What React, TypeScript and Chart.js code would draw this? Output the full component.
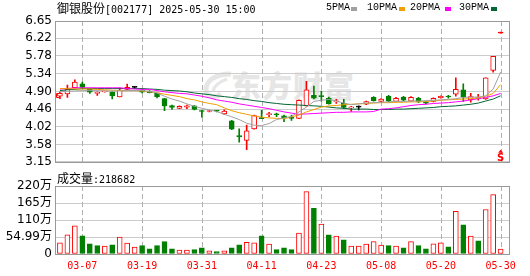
import React, { useEffect, useRef } from 'react';
import { Chart, registerables } from 'chart.js';

Chart.register(...registerables);

// ---------------- data ----------------
const dates = [
  '03-04', '03-05', '03-06', '03-07', '03-10', '03-11', '03-12', '03-13', '03-14', '03-17',
  '03-18', '03-19', '03-20', '03-21', '03-24', '03-25', '03-26', '03-27', '03-28', '03-31',
  '04-01', '04-02', '04-03', '04-07', '04-08', '04-09', '04-10', '04-11', '04-14', '04-15',
  '04-16', '04-17', '04-18', '04-21', '04-22', '04-23', '04-24', '04-25', '04-28', '04-29',
  '04-30', '05-06', '05-07', '05-08', '05-09', '05-12', '05-13', '05-14', '05-15', '05-16',
  '05-19', '05-20', '05-21', '05-22', '05-23', '05-26', '05-27', '05-28', '05-29', '05-30',
];

const opens = [
  4.78, 4.84, 4.99, 5.09, 4.95, 4.85, 4.89, 4.88, 4.76, 4.95,
  5.00, 4.93, 4.91, 4.85, 4.72, 4.55, 4.48, 4.51, 4.54, 4.42,
  4.40, 4.43, 4.34, 4.17, 3.80, 3.68, 3.97, 4.25, 4.32, 4.33,
  4.29, 4.25, 4.23, 4.54, 4.80, 4.79, 4.73, 4.64, 4.61, 4.49,
  4.51, 4.58, 4.75, 4.65, 4.78, 4.65, 4.76, 4.66, 4.73, 4.63,
  4.65, 4.74, 4.78, 4.83, 4.94, 4.69, 4.72, 4.71, 5.42, 6.35,
];
const highs = [
  4.88, 5.06, 5.19, 5.13, 4.96, 4.89, 4.91, 4.89, 4.99, 5.08,
  5.02, 4.93, 4.92, 4.86, 4.73, 4.56, 4.54, 4.56, 4.55, 4.43,
  4.43, 4.43, 4.44, 4.18, 3.97, 4.06, 4.31, 4.43, 4.38, 4.36,
  4.31, 4.31, 4.69, 5.15, 5.03, 4.91, 4.76, 4.70, 4.70, 4.53,
  4.54, 4.66, 4.77, 4.72, 4.80, 4.75, 4.78, 4.77, 4.75, 4.65,
  4.74, 4.79, 4.80, 5.24, 5.09, 4.85, 4.83, 5.24, 5.77, 6.35,
];
const lows = [
  4.72, 4.75, 4.98, 4.97, 4.85, 4.80, 4.88, 4.71, 4.76, 4.95,
  4.97, 4.86, 4.86, 4.74, 4.42, 4.45, 4.47, 4.47, 4.44, 4.26,
  4.39, 4.39, 4.33, 3.95, 3.64, 3.45, 3.96, 4.22, 4.27, 4.27,
  4.15, 4.18, 4.22, 4.53, 4.71, 4.66, 4.58, 4.60, 4.47, 4.40,
  4.44, 4.57, 4.66, 4.64, 4.64, 4.64, 4.67, 4.65, 4.62, 4.59,
  4.64, 4.73, 4.73, 4.78, 4.65, 4.63, 4.68, 4.70, 5.38, 6.35,
];
const closes = [
  4.85, 4.95, 5.13, 5.00, 4.88, 4.86, 4.91, 4.79, 4.93, 5.00,
  5.00, 4.88, 4.87, 4.77, 4.54, 4.50, 4.53, 4.54, 4.45, 4.40,
  4.42, 4.41, 4.41, 3.96, 3.77, 3.92, 4.30, 4.22, 4.35, 4.32,
  4.25, 4.23, 4.68, 4.94, 4.73, 4.77, 4.59, 4.66, 4.50, 4.51,
  4.51, 4.65, 4.67, 4.71, 4.66, 4.73, 4.68, 4.75, 4.64, 4.61,
  4.73, 4.78, 4.76, 4.95, 4.76, 4.77, 4.74, 5.24, 5.77, 6.35,
];

// volume in 万
const volumes = [
  36, 62, 91, 59, 33, 27, 26, 30, 55, 35,
  22, 27, 17, 27, 40, 17, 13, 13, 14, 20,
  10, 7.5, 10, 20, 30, 38, 36, 59, 32, 14,
  20, 14, 68, 202, 148, 97, 62, 58, 46, 26,
  26, 32, 40, 29, 27, 26, 20, 40, 27, 17,
  33, 36, 23, 138, 94, 58, 43, 144, 192, 16,
];
const volumeUp = [
  1, 1, 1, 0, 0, 0, 1, 0, 1, 1,
  1, 0, 0, 0, 0, 0, 1, 1, 0, 0,
  1, 0, 1, 0, 0, 1, 1, 0, 1, 0,
  0, 0, 1, 1, 0, 1, 0, 1, 0, 1,
  1, 1, 1, 1, 0, 1, 0, 1, 0, 0,
  1, 1, 0, 1, 0, 1, 0, 1, 1, 1,
];

const ma5 = [
  4.89, 4.90, 4.91, 4.92, 4.92, 4.92, 4.91, 4.91, 4.91, 4.92,
  4.92, 4.92, 4.90, 4.86, 4.78, 4.71, 4.66, 4.59, 4.53, 4.48,
  4.44, 4.40, 4.33, 4.27, 4.20, 4.11, 4.06, 4.05, 4.10, 4.20,
  4.24, 4.28, 4.39, 4.51, 4.65, 4.68, 4.70, 4.66, 4.61, 4.57,
  4.59, 4.61, 4.62, 4.63, 4.64, 4.65, 4.65, 4.66, 4.66, 4.67,
  4.68, 4.69, 4.70, 4.72, 4.75, 4.76, 4.76, 4.79, 4.96, 5.38,
];
const ma10 = [
  4.97, 4.97, 4.96, 4.96, 4.96, 4.95, 4.94, 4.93, 4.92, 4.92,
  4.92, 4.91, 4.89, 4.87, 4.83, 4.80, 4.77, 4.72, 4.69, 4.64,
  4.60, 4.57, 4.49, 4.42, 4.37, 4.33, 4.29, 4.26, 4.24, 4.23,
  4.22, 4.27, 4.31, 4.39, 4.45, 4.51, 4.54, 4.55, 4.57, 4.58,
  4.59, 4.60, 4.61, 4.62, 4.62, 4.63, 4.63, 4.64, 4.64, 4.65,
  4.66, 4.68, 4.69, 4.70, 4.71, 4.72, 4.74, 4.78, 4.85, 5.07,
];
const ma20 = [
  4.96, 4.97, 4.99, 4.99, 4.99, 4.99, 4.99, 4.99, 4.99, 4.97,
  4.96, 4.95, 4.95, 4.92, 4.89, 4.87, 4.85, 4.84, 4.81, 4.78,
  4.74, 4.69, 4.66, 4.63, 4.59, 4.56, 4.53, 4.50, 4.47, 4.43,
  4.39, 4.36, 4.33, 4.34, 4.35, 4.36, 4.37, 4.38, 4.38, 4.39,
  4.39, 4.39, 4.40, 4.46, 4.47, 4.49, 4.52, 4.55, 4.57, 4.58,
  4.60, 4.61, 4.62, 4.64, 4.66, 4.69, 4.72, 4.75, 4.79, 4.85,
];
const ma30 = [
  4.92, 4.94, 4.95, 4.97, 4.97, 4.97, 4.97, 4.97, 4.97, 4.97,
  4.97, 4.97, 4.96, 4.95, 4.93, 4.92, 4.91, 4.89, 4.86, 4.84,
  4.82, 4.79, 4.77, 4.75, 4.72, 4.70, 4.67, 4.65, 4.62, 4.60,
  4.58, 4.57, 4.56, 4.55, 4.54, 4.53, 4.51, 4.49, 4.48, 4.46,
  4.46, 4.46, 4.45, 4.45, 4.45, 4.46, 4.46, 4.47, 4.48, 4.49,
  4.50, 4.52, 4.53, 4.54, 4.56, 4.58, 4.61, 4.66, 4.71, 4.79,
];

const priceTicks = [3.15, 3.58, 4.02, 4.46, 4.9, 5.34, 5.78, 6.22, 6.65];
const priceTickLabels = ['3.15', '3.58', '4.02', '4.46', '4.90', '5.34', '5.78', '6.22', '6.65'];
const volumeTicks = [0, 54.99, 110, 165, 220];
const volumeTickLabels = ['0', '54.99万', '110万', '165万', '220万'];
const dateTickIndex = [3, 11, 19, 27, 35, 43, 51, 59];
const latestVolume = 218682;
const axisMarkPrice = 4.8;
const signalIndex = 59;

const stockTitleCn = '御银股份';
const stockTitleRest = '[002177] 2025-05-30 15:00';
const maNames = ['5PMA', '10PMA', '20PMA', '30PMA'];

// ---------------- styles ----------------
const UP = '#ff0000';
const DOWN = '#008000';
const FLAT = '#000000';
const MA_COLORS = ['#a0a0a0', '#f0a000', '#ff00ff', '#006633'];
const GRID = '#cccccc';
const VGRID = '#b0b0b0';
const FRAME = '#999999';
const X_MIN = -0.66;
const X_MAX = 60.12;

const candleDir = closes.map((c, i) =>
  c > opens[i] ? 1 : c < opens[i] ? -1 : i > 0 && c > closes[i - 1] ? 1 : 0
);
const candleColor = candleDir.map((d) => (d > 0 ? UP : d < 0 ? DOWN : FLAT));

function drawDateGrid(chart: any) {
  const { ctx, chartArea, scales } = chart;
  ctx.save();
  ctx.strokeStyle = VGRID;
  ctx.lineWidth = 1;
  ctx.setLineDash([5, 3]);
  for (let k = 0; k < dateTickIndex.length; k++) {
    const px = scales.x.getPixelForValue(dateTickIndex[k]);
    const x = Math.round(px) + 0.5;
    ctx.beginPath();
    ctx.moveTo(x, Math.round(chartArea.top));
    ctx.lineTo(x, Math.round(chartArea.bottom));
    ctx.stroke();
  }
  ctx.setLineDash([]);
  ctx.restore();
}

// dashed vertical date grid (under the marks) + outer frame
const framePlugin = {
  id: 'frame',
  beforeDatasetsDraw(chart: any) {
    drawDateGrid(chart);
  },
  afterDraw(chart: any) {
    const { ctx, chartArea } = chart;
    ctx.save();
    ctx.strokeStyle = FRAME;
    ctx.lineWidth = 1;
    ctx.strokeRect(
      Math.round(chartArea.left) + 0.5,
      Math.round(chartArea.top) + 0.5,
      Math.round(chartArea.right - chartArea.left),
      Math.round(chartArea.bottom - chartArea.top)
    );
    ctx.restore();
  },
};

const markerPlugin = {
  id: 'markers',
  afterDraw(chart: any) {
    const { ctx, chartArea, scales } = chart;
    const y = Math.round(scales.y.getPixelForValue(axisMarkPrice)) + 0.5;
    const x0 = Math.round(chartArea.left) + 1.5;
    ctx.save();
    ctx.strokeStyle = UP;
    ctx.lineWidth = 1;
    ctx.beginPath();
    ctx.moveTo(x0 + 3, y - 2);
    ctx.lineTo(x0, y - 2);
    ctx.lineTo(x0, y + 2);
    ctx.lineTo(x0 + 3, y + 2);
    ctx.stroke();
    // signal marker under the last candle
    const sx = scales.x.getPixelForValue(signalIndex);
    const base = chartArea.bottom;
    ctx.fillStyle = UP;
    ctx.beginPath();
    ctx.moveTo(sx, base - 12);
    ctx.lineTo(sx - 2.5, base - 9);
    ctx.lineTo(sx + 2.5, base - 9);
    ctx.closePath();
    ctx.fill();
    ctx.font = 'bold 10px "DejaVu Sans"';
    ctx.textAlign = 'center';
    ctx.textBaseline = 'alphabetic';
    ctx.fillText('S', sx, base - 0.5);
    ctx.restore();
  },
};

function xScale(showLabels: boolean, height: number) {
  return {
    type: 'linear',
    min: X_MIN,
    max: X_MAX,
    offset: false,
    bounds: 'data',
    afterBuildTicks: (s: any) => {
      s.ticks = dateTickIndex.map((v) => ({ value: v }));
    },
    afterFit: (s: any) => {
      s.height = height;
    },
    ticks: {
      display: showLabels,
      autoSkip: false,
      maxRotation: 0,
      padding: 6,
      color: UP,
      font: { family: '"DejaVu Sans Mono"', size: 10 },
      callback: (v: any) => dates[v] ?? '',
    },
    grid: { display: false, drawTicks: false, offset: false },
    border: { display: false },
  };
}

function yScale(min: number, max: number, ticks: number[], labels: string[]) {
  return {
    type: 'linear',
    min,
    max,
    bounds: 'data',
    afterBuildTicks: (s: any) => {
      s.ticks = ticks.map((v) => ({ value: v }));
    },
    afterFit: (s: any) => {
      s.width = 55;
    },
    ticks: {
      autoSkip: false,
      padding: 3,
      color: '#000000',
      font: { family: '"DejaVu Sans", "Noto Sans CJK SC"', size: 12 },
      callback: (_v: any, i: number) => labels[i],
    },
    grid: { color: GRID, drawTicks: false, lineWidth: 1 },
    border: { display: false },
  };
}

export default function App() {
  const priceRef = useRef<HTMLCanvasElement>(null);
  const volRef = useRef<HTMLCanvasElement>(null);

  useEffect(() => {
    const idx = dates.map((_, i) => i);
    const maSets = [ma5, ma10, ma20, ma30].map((arr, k) => ({
      type: 'line',
      data: idx.map((i) => ({ x: i, y: arr[i] })),
      borderColor: MA_COLORS[k],
      borderWidth: 1,
      pointRadius: 0,
      tension: 0,
      order: 0,
    }));

    const priceChart = new Chart(priceRef.current as HTMLCanvasElement, {
      type: 'bar',
      data: {
        datasets: [
          ...maSets,
          {
            type: 'bar',
            data: idx.map((i) => ({
              x: i,
              y: [Math.min(opens[i], closes[i]), Math.max(opens[i], closes[i])],
            })),
            backgroundColor: idx.map((i) =>
              candleDir[i] > 0 && opens[i] !== closes[i] ? '#ffffff' : candleColor[i]
            ),
            borderColor: candleColor,
            borderWidth: 1,
            borderSkipped: false,
            barThickness: 5,
            minBarLength: 1,
            grouped: false,
            order: 1,
          },
          {
            type: 'bar',
            data: idx.map((i) => ({ x: i, y: [lows[i], highs[i]] })),
            backgroundColor: candleColor,
            borderWidth: 0,
            barThickness: 1,
            minBarLength: 1,
            grouped: false,
            order: 2,
          },
        ] as any,
      },
      options: {
        responsive: false,
        animation: false,
        devicePixelRatio: 1,
        events: [],
        layout: { padding: { left: 0, right: 21, top: 21, bottom: 7 } },
        plugins: { legend: { display: false }, tooltip: { enabled: false } },
        scales: {
          x: xScale(false, 0) as any,
          y: yScale(3.15, 6.65, priceTicks, priceTickLabels) as any,
        },
      },
      plugins: [framePlugin, markerPlugin],
    });

    const volChart = new Chart(volRef.current as HTMLCanvasElement, {
      type: 'bar',
      data: {
        datasets: [
          {
            data: idx.map((i) => ({ x: i, y: volumes[i] })),
            backgroundColor: idx.map((i) => (volumeUp[i] ? '#ffffff' : DOWN)),
            borderColor: idx.map((i) => (volumeUp[i] ? UP : DOWN)),
            borderWidth: 1,
            borderSkipped: false,
            barThickness: 5,
            grouped: false,
          },
        ] as any,
      },
      options: {
        responsive: false,
        animation: false,
        devicePixelRatio: 1,
        events: [],
        layout: { padding: { left: 0, right: 21, top: 14, bottom: 0 } },
        plugins: { legend: { display: false }, tooltip: { enabled: false } },
        scales: {
          x: xScale(true, 22) as any,
          y: yScale(0, 220, volumeTicks, volumeTickLabels) as any,
        },
      },
      plugins: [framePlugin],
    });

    return () => {
      priceChart.destroy();
      volChart.destroy();
    };
  }, []);

  const mono = '"DejaVu Sans Mono", monospace';
  const cjk = '"Noto Sans CJK SC", sans-serif';
  const legendX = [326, 367, 410, 459];
  const swatchX = [351, 399, 445, 491];

  return (
    <div
      style={{
        position: 'fixed',
        left: 0,
        top: 0,
        width: 530,
        height: 276,
        background: '#ffffff',
        overflow: 'hidden',
      }}
    >
      <svg
        width={34}
        height={28}
        style={{ position: 'absolute', left: 201, top: 71 }}
      >
        <path
          d="M30 3 C 14 3, 4 10, 5 20 C 6 26, 14 27, 20 23"
          fill="none"
          stroke="#e6e6e6"
          strokeWidth={5}
        />
        <path d="M26 8 C 18 11, 13 15, 12 20" fill="none" stroke="#e6e6e6" strokeWidth={3} />
      </svg>
      <div
        style={{
          position: 'absolute',
          left: 231,
          top: 67,
          fontFamily: cjk,
          fontWeight: 900,
          fontSize: 30,
          lineHeight: '34px',
          color: '#e6e6e6',
          letterSpacing: 1,
          whiteSpace: 'nowrap',
        }}
      >
        东方财富
      </div>
      <canvas
        ref={priceRef}
        width={530}
        height={172}
        style={{ position: 'absolute', left: 0, top: 0, width: 530, height: 172 }}
      />
      <canvas
        ref={volRef}
        width={530}
        height={104}
        style={{ position: 'absolute', left: 0, top: 172, width: 530, height: 104 }}
      />
      <div
        style={{
          position: 'absolute',
          left: 57,
          top: 1,
          height: 14,
          lineHeight: '14px',
          whiteSpace: 'nowrap',
          color: '#000',
        }}
      >
        <span style={{ fontFamily: cjk, fontSize: 12 }}>{stockTitleCn}</span>
        <span style={{ fontFamily: mono, fontSize: 10 }}>{stockTitleRest}</span>
      </div>
      {maNames.map((n, k) => (
        <React.Fragment key={n}>
          <div
            style={{
              position: 'absolute',
              left: legendX[k],
              top: 1,
              lineHeight: '14px',
              fontFamily: '"Liberation Mono", monospace',
              fontSize: 10,
              color: '#000',
              whiteSpace: 'nowrap',
            }}
          >
            {n}
          </div>
          <div
            style={{
              position: 'absolute',
              left: swatchX[k],
              top: 7,
              width: 6,
              height: 4,
              background: MA_COLORS[k],
            }}
          />
        </React.Fragment>
      ))}
      <div
        style={{
          position: 'absolute',
          left: 57,
          top: 171,
          lineHeight: '14px',
          whiteSpace: 'nowrap',
          color: '#000',
        }}
      >
        <span style={{ fontFamily: cjk, fontSize: 12 }}>成交量</span>
        <span style={{ fontFamily: mono, fontSize: 10 }}>:{latestVolume}</span>
      </div>
    </div>
  );
}
